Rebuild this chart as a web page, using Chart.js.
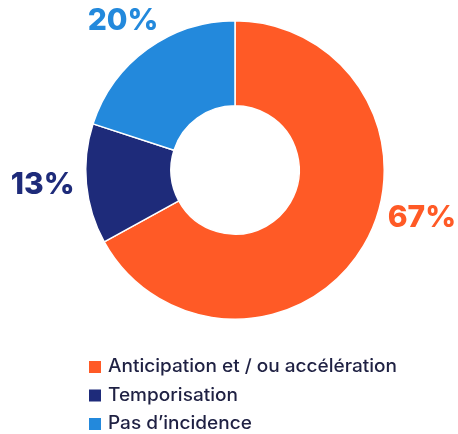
<!DOCTYPE html>
<html>
<head>
<meta charset="utf-8">
<script src="https://cdn.jsdelivr.net/npm/chart.js@4"></script>
<style>
  html, body { margin: 0; padding: 0; background: #fff; }
  #wrap { width: 458px; height: 434px; position: relative; }
</style>
</head>
<body>
<div id="wrap"><canvas id="myChart" width="458" height="434"></canvas></div>
<script>
const categories = ['Anticipation et / ou accélération', 'Temporisation', "Pas d’incidence"];
const values = [67, 13, 20];
const colors = ['#FF5A26', '#1E2B7A', '#2389DC'];

// where each % label sits: angle (deg, 0 = right, clockwise) and distance from centre
const labelSpots = [
  { angle: 14.5, dist: 193 },
  { angle: 175.5, dist: 193 },
  { angle: 233, dist: 186 },
];

const pctLabels = {
  id: 'pctLabels',
  afterDatasetsDraw(chart) {
    const ctx = chart.ctx;
    const meta = chart.getDatasetMeta(0);
    ctx.save();
    ctx.font = '800 30px Inter';
    ctx.textAlign = 'center';
    ctx.textBaseline = 'middle';
    meta.data.forEach((arc, i) => {
      const a = labelSpots[i].angle * Math.PI / 180;
      const x = arc.x + Math.cos(a) * labelSpots[i].dist;
      const y = arc.y + Math.sin(a) * labelSpots[i].dist;
      ctx.fillStyle = colors[i];
      ctx.fillText(values[i] + '%', x, y);
    });
    ctx.restore();
  },
};

const sideLegend = {
  id: 'sideLegend',
  afterDraw(chart) {
    const ctx = chart.ctx;
    ctx.save();
    ctx.font = '500 18px Inter';
    ctx.textBaseline = 'middle';
    // widen the text a bit, the original font is a wide geometric one
    const sx = 289 / ctx.measureText(categories[0]).width;
    categories.forEach((c, i) => {
      const y = 367 + i * 28.5;
      ctx.fillStyle = colors[i];
      ctx.fillRect(89, y - 6, 12, 12);
      ctx.save();
      ctx.translate(108, y);
      ctx.scale(sx, 1);
      ctx.fillStyle = '#1F2143';
      ctx.fillText(c, 0, 0);
      ctx.restore();
    });
    ctx.restore();
  },
};

new Chart(document.getElementById('myChart'), {
  type: 'doughnut',
  data: {
    labels: categories,
    datasets: [{
      data: values,
      backgroundColor: colors,
      borderColor: '#ffffff',
      borderWidth: 1.5,
      hoverOffset: 0,
    }],
  },
  options: {
    responsive: false,
    animation: false,
    cutout: '43%',
    layout: { padding: { top: 20, bottom: 114, left: 12, right: 0 } },
    plugins: {
      legend: { display: false },
      tooltip: { enabled: false },
    },
  },
  plugins: [pctLabels, sideLegend],
});
</script>
</body>
</html>
